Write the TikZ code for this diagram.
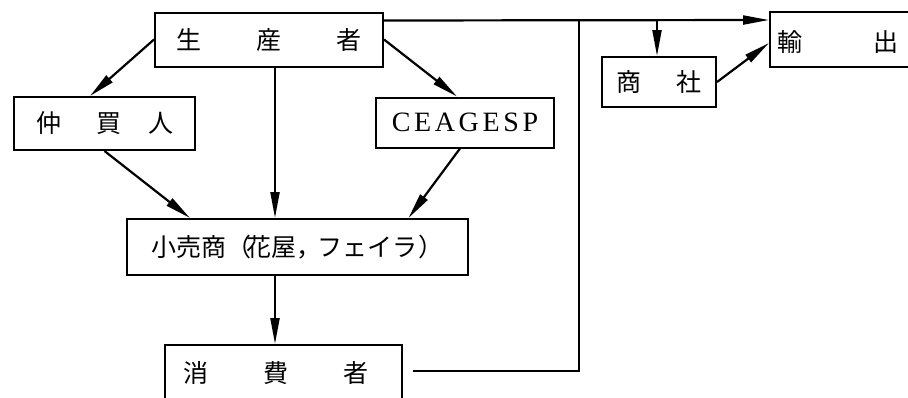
\documentclass[tikz,border=0pt]{standalone}
\usepackage{fontspec}
\setmainfont{Liberation Serif}
\newfontfamily\cjk{Noto Sans CJK JP}
\usetikzlibrary{arrows.meta}
\tikzset{
  box/.style={draw, line width=2pt, inner sep=0pt, font=\cjk\fontsize{25}{28}\selectfont},
  lbl/.style={inner sep=0pt, font=\cjk\fontsize{25}{28}\selectfont},
  conn/.style={line width=2.2pt},
  arr/.style={conn, -{Triangle[length=26pt,width=9pt]}}
}
\begin{document}
\begin{tikzpicture}[x=1pt,y=-1pt]
\useasboundingbox (0,0) rectangle (908,397);
\clip (0,0) rectangle (908,397);
\fill[white] (0,0) rectangle (908,397);
% boxes
\node[box, minimum width=228pt, minimum height=54pt] (prod) at (269,39.5) {生\hspace{55pt}産\hspace{55pt}者};
\node[box, minimum width=181pt, minimum height=53pt] (naka) at (104.5,123.5) {仲\hspace{35pt}買\hspace{27pt}人};
\node[box, minimum width=178pt, minimum height=50pt, font={\fontsize{28}{30}\selectfont\addfontfeature{LetterSpace=13}}] (cea) at (465,122.5) {CEAGESP};
\node[box, minimum width=341pt, minimum height=56pt] (retail) at (297.5,247) {小売商（\hspace{-5pt}花屋，\hspace{-4pt}フェイラ\hspace{1pt}）};
\node[box, minimum width=237pt, minimum height=70pt] (cons) at (283.5,380) {};
\node[lbl] (consT) at (276,373) {消\hspace{55pt}費\hspace{55pt}者};
\node[box, minimum width=114pt, minimum height=50pt] (shosha) at (659,82) {商\hspace{35pt}社};
\node[box, minimum width=160pt, minimum height=55pt] (export) at (850,39.5) {};
\node[lbl] (exportT) at (838,42) {輸\hspace{71pt}出};
% connectors
\draw[arr] (prod.west) -- ([xshift=-14.5pt]naka.north);
\draw[arr] ([xshift=6pt]prod.south) -- ([xshift=6pt]prod.south |- retail.north);
\draw[arr] (prod.east) -- ([xshift=-8pt]cea.north);
\draw[arr] (naka.south) -- ([xshift=-107.5pt]retail.north);
\draw[arr] ([xshift=-5pt]cea.south) -- ([xshift=111pt]retail.north);
\draw[arr] ([xshift=-22.5pt]retail.south) -- ([xshift=-8.5pt]cons.north);
\draw[arr] ([yshift=-9pt]prod.north east) -- ([yshift=-9pt]export.north west);
\coordinate (j1) at (579,21);
\coordinate (j2) at (579,371);
\draw[conn] ([xshift=10pt]cons.east |- j2) -- (j2) -- (j1);
\coordinate (b1) at (657,21);
\draw[arr] (b1) -- (b1 |- shosha.north);
\draw[arr] (shosha.east) -- ([yshift=-3.5pt]export.west);
\end{tikzpicture}
\end{document}
